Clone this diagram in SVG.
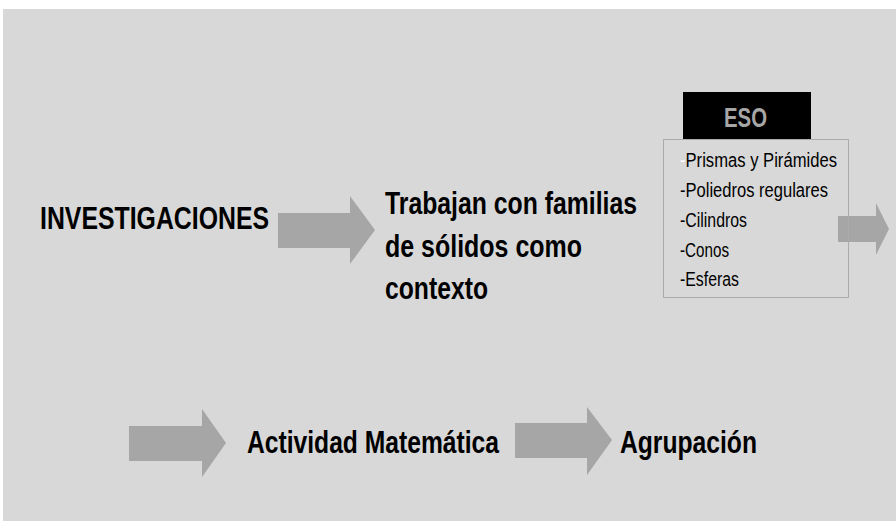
<svg xmlns="http://www.w3.org/2000/svg" width="896" height="521" viewBox="0 0 896 521">
<style>
.big{font-family:"Liberation Sans",Arial,sans-serif;font-weight:bold;font-size:31px;fill:#000}
.item{font-family:"Liberation Sans",Arial,sans-serif;font-size:20px;fill:#000}
.eso{font-family:"Liberation Sans",Arial,sans-serif;font-weight:bold;font-size:27px;fill:#a6a6a6}
.arrow{fill:#a6a6a6}
</style>
<rect x="0" y="0" width="896" height="521" fill="#ffffff"/>
<rect x="3" y="9" width="893" height="512" fill="#d8d8d8"/>
<g id="connectors">
<polygon class="arrow" points="278,213 350,213 350,196 375,230 350,264 350,248 278,248"/>
<polygon class="arrow" points="838,216 876,216 876,203 889,229 876,255 876,242 838,242"/>
<polygon class="arrow" points="129,426 202,426 202,409 226,443 202,477 202,461 129,461"/>
<polygon class="arrow" points="515,423 587,423 587,407 612,440 587,475 587,458 515,458"/>
</g>
<g id="investigaciones">
<text class="big" x="40" y="229" textLength="229" lengthAdjust="spacingAndGlyphs">INVESTIGACIONES</text>
</g>
<g id="trabajan">
<text class="big" x="385" y="214" textLength="252" lengthAdjust="spacingAndGlyphs">Trabajan con familias</text>
<text class="big" x="385" y="257" textLength="197" lengthAdjust="spacingAndGlyphs">de sólidos como</text>
<text class="big" x="385" y="299" textLength="103" lengthAdjust="spacingAndGlyphs">contexto</text>
</g>
<g id="eso">
<rect x="683" y="92" width="128" height="47" fill="#000"/>
<text class="eso" x="745.5" y="127" text-anchor="middle" textLength="43" lengthAdjust="spacingAndGlyphs">ESO</text>
<rect x="663.5" y="139.5" width="185" height="158" fill="none" stroke="#ababab" stroke-width="1"/>
<text class="item" x="680" y="167" textLength="157" lengthAdjust="spacingAndGlyphs"><tspan fill="#ffffff">-</tspan>Prismas y Pirámides</text>
<text class="item" x="680" y="197" textLength="148" lengthAdjust="spacingAndGlyphs">-Poliedros regulares</text>
<text class="item" x="680" y="227" textLength="67" lengthAdjust="spacingAndGlyphs">-Cilindros</text>
<text class="item" x="680" y="256.5" textLength="49" lengthAdjust="spacingAndGlyphs">-Conos</text>
<text class="item" x="680" y="286" textLength="59" lengthAdjust="spacingAndGlyphs">-Esferas</text>
</g>
<g id="actividad">
<text class="big" x="247" y="453" textLength="252" lengthAdjust="spacingAndGlyphs">Actividad Matemática</text>
</g>
<g id="agrupacion">
<text class="big" x="620" y="453" textLength="137" lengthAdjust="spacingAndGlyphs">Agrupación</text>
</g>
</svg>
